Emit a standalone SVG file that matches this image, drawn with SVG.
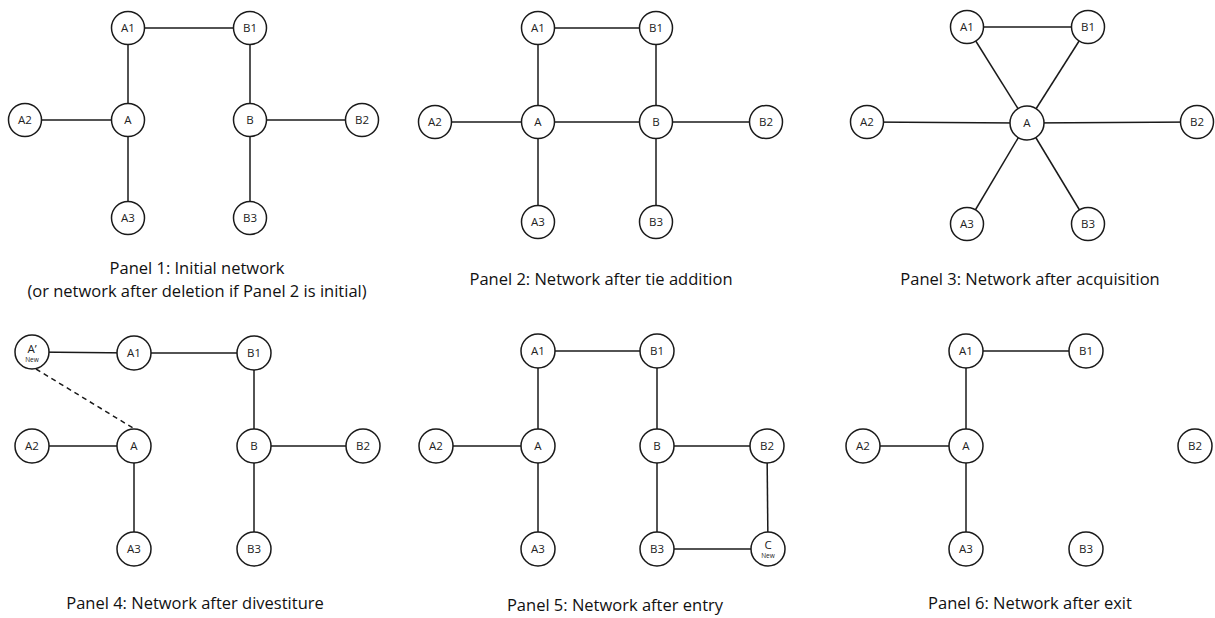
<svg xmlns="http://www.w3.org/2000/svg" width="1215" height="618" viewBox="0 0 1215 618">
<style>
.n circle{fill:#fff;stroke:#1a1a1a;stroke-width:1.5}
.n text{font-family:"Open Sans","Liberation Sans",sans-serif;font-size:11.5px;fill:#222;text-anchor:middle}
.n text.s{font-size:6.5px}
.e line{stroke:#1a1a1a;stroke-width:1.5}
.e line.d{stroke-dasharray:5,4}
.cap{font-family:"Open Sans","Liberation Sans",sans-serif;font-size:16.5px;fill:#111;text-anchor:middle}
</style>
<rect width="1215" height="618" fill="#fff"/>
<g id="connectors" class="e">
<!-- Panel 1 -->
<line x1="128" y1="28" x2="250" y2="28"/>
<line x1="128" y1="28" x2="128" y2="120"/>
<line x1="25" y1="120" x2="128" y2="120"/>
<line x1="128" y1="120" x2="128" y2="218"/>
<line x1="250" y1="28" x2="250" y2="120"/>
<line x1="250" y1="120" x2="362" y2="120"/>
<line x1="250" y1="120" x2="250" y2="218"/>
<!-- Panel 2 -->
<line x1="538" y1="28" x2="656" y2="28"/>
<line x1="538" y1="28" x2="538" y2="122"/>
<line x1="435" y1="122" x2="538" y2="122"/>
<line x1="538" y1="122" x2="656" y2="122"/>
<line x1="538" y1="122" x2="538" y2="222"/>
<line x1="656" y1="28" x2="656" y2="122"/>
<line x1="656" y1="122" x2="766" y2="122"/>
<line x1="656" y1="122" x2="656" y2="222"/>
<!-- Panel 3 -->
<line x1="967" y1="27" x2="1088" y2="27"/>
<line x1="967" y1="27" x2="1027" y2="123"/>
<line x1="1088" y1="27" x2="1027" y2="123"/>
<line x1="867" y1="122" x2="1027" y2="123"/>
<line x1="1027" y1="123" x2="1197" y2="122"/>
<line x1="1027" y1="123" x2="967" y2="224"/>
<line x1="1027" y1="123" x2="1088" y2="224"/>
<!-- Panel 4 -->
<line x1="32" y1="352" x2="134" y2="353"/>
<line x1="134" y1="353" x2="254" y2="353"/>
<line x1="254" y1="353" x2="254" y2="446"/>
<line x1="32" y1="446" x2="134" y2="446"/>
<line x1="134" y1="446" x2="134" y2="549"/>
<line x1="254" y1="446" x2="363" y2="446"/>
<line x1="254" y1="446" x2="254" y2="549"/>
<line class="d" x1="36" y1="369" x2="133" y2="428"/>
<!-- Panel 5 -->
<line x1="538" y1="351" x2="657" y2="351"/>
<line x1="538" y1="351" x2="538" y2="446"/>
<line x1="436" y1="446" x2="538" y2="446"/>
<line x1="538" y1="446" x2="538" y2="549"/>
<line x1="657" y1="351" x2="657" y2="446"/>
<line x1="657" y1="446" x2="767" y2="446"/>
<line x1="657" y1="446" x2="657" y2="549"/>
<line x1="767" y1="446" x2="768" y2="549"/>
<line x1="657" y1="549" x2="768" y2="549"/>
<!-- Panel 6 -->
<line x1="966" y1="351" x2="1086" y2="351"/>
<line x1="966" y1="351" x2="966" y2="446"/>
<line x1="863" y1="446" x2="966" y2="446"/>
<line x1="966" y1="446" x2="966" y2="549"/>
</g>
<!-- Panel 1 nodes -->
<g id="p1-A1" class="n"><circle cx="128" cy="28" r="16.5"/><text x="128" y="32">A1</text></g>
<g id="p1-B1" class="n"><circle cx="250" cy="28" r="16.5"/><text x="250" y="32">B1</text></g>
<g id="p1-A2" class="n"><circle cx="25" cy="120" r="16.5"/><text x="25" y="124">A2</text></g>
<g id="p1-A" class="n"><circle cx="128" cy="120" r="16.5"/><text x="128" y="124">A</text></g>
<g id="p1-B" class="n"><circle cx="250" cy="120" r="16.5"/><text x="250" y="124">B</text></g>
<g id="p1-B2" class="n"><circle cx="362" cy="120" r="16.5"/><text x="362" y="124">B2</text></g>
<g id="p1-A3" class="n"><circle cx="128" cy="218" r="16.5"/><text x="128" y="222">A3</text></g>
<g id="p1-B3" class="n"><circle cx="250" cy="218" r="16.5"/><text x="250" y="222">B3</text></g>
<!-- Panel 2 nodes -->
<g id="p2-A1" class="n"><circle cx="538" cy="28" r="16.5"/><text x="538" y="32">A1</text></g>
<g id="p2-B1" class="n"><circle cx="656" cy="28" r="16.5"/><text x="656" y="32">B1</text></g>
<g id="p2-A2" class="n"><circle cx="435" cy="122" r="16.5"/><text x="435" y="126">A2</text></g>
<g id="p2-A" class="n"><circle cx="538" cy="122" r="16.5"/><text x="538" y="126">A</text></g>
<g id="p2-B" class="n"><circle cx="656" cy="122" r="16.5"/><text x="656" y="126">B</text></g>
<g id="p2-B2" class="n"><circle cx="766" cy="122" r="16.5"/><text x="766" y="126">B2</text></g>
<g id="p2-A3" class="n"><circle cx="538" cy="222" r="16.5"/><text x="538" y="226">A3</text></g>
<g id="p2-B3" class="n"><circle cx="656" cy="222" r="16.5"/><text x="656" y="226">B3</text></g>
<!-- Panel 3 nodes -->
<g id="p3-A1" class="n"><circle cx="967" cy="27" r="16.5"/><text x="967" y="31">A1</text></g>
<g id="p3-B1" class="n"><circle cx="1088" cy="27" r="16.5"/><text x="1088" y="31">B1</text></g>
<g id="p3-A2" class="n"><circle cx="867" cy="122" r="16.5"/><text x="867" y="126">A2</text></g>
<g id="p3-A" class="n"><circle cx="1027" cy="123" r="17"/><text x="1027" y="127">A</text></g>
<g id="p3-B2" class="n"><circle cx="1197" cy="122" r="16.5"/><text x="1197" y="126">B2</text></g>
<g id="p3-A3" class="n"><circle cx="967" cy="224" r="16.5"/><text x="967" y="228">A3</text></g>
<g id="p3-B3" class="n"><circle cx="1088" cy="224" r="16.5"/><text x="1088" y="228">B3</text></g>
<!-- Panel 4 nodes -->
<g id="p4-Aprime" class="n"><circle cx="32" cy="352" r="17"/><text x="32" y="353">A’</text><text class="s" x="32" y="362">New</text></g>
<g id="p4-A1" class="n"><circle cx="134" cy="353" r="17"/><text x="134" y="357">A1</text></g>
<g id="p4-B1" class="n"><circle cx="254" cy="353" r="17"/><text x="254" y="357">B1</text></g>
<g id="p4-A2" class="n"><circle cx="32" cy="446" r="17"/><text x="32" y="450">A2</text></g>
<g id="p4-A" class="n"><circle cx="134" cy="446" r="17"/><text x="134" y="450">A</text></g>
<g id="p4-B" class="n"><circle cx="254" cy="446" r="17"/><text x="254" y="450">B</text></g>
<g id="p4-B2" class="n"><circle cx="363" cy="446" r="17"/><text x="363" y="450">B2</text></g>
<g id="p4-A3" class="n"><circle cx="134" cy="549" r="17"/><text x="134" y="553">A3</text></g>
<g id="p4-B3" class="n"><circle cx="254" cy="549" r="17"/><text x="254" y="553">B3</text></g>
<!-- Panel 5 nodes -->
<g id="p5-A1" class="n"><circle cx="538" cy="351" r="17"/><text x="538" y="355">A1</text></g>
<g id="p5-B1" class="n"><circle cx="657" cy="351" r="17"/><text x="657" y="355">B1</text></g>
<g id="p5-A2" class="n"><circle cx="436" cy="446" r="17"/><text x="436" y="450">A2</text></g>
<g id="p5-A" class="n"><circle cx="538" cy="446" r="17"/><text x="538" y="450">A</text></g>
<g id="p5-B" class="n"><circle cx="657" cy="446" r="17"/><text x="657" y="450">B</text></g>
<g id="p5-B2" class="n"><circle cx="767" cy="446" r="17"/><text x="767" y="450">B2</text></g>
<g id="p5-A3" class="n"><circle cx="538" cy="549" r="17"/><text x="538" y="553">A3</text></g>
<g id="p5-B3" class="n"><circle cx="657" cy="549" r="17"/><text x="657" y="553">B3</text></g>
<g id="p5-C" class="n"><circle cx="768" cy="549" r="17"/><text x="768" y="549">C</text><text class="s" x="768" y="558">New</text></g>
<!-- Panel 6 nodes -->
<g id="p6-A1" class="n"><circle cx="966" cy="351" r="17"/><text x="966" y="355">A1</text></g>
<g id="p6-B1" class="n"><circle cx="1086" cy="351" r="17"/><text x="1086" y="355">B1</text></g>
<g id="p6-A2" class="n"><circle cx="863" cy="446" r="17"/><text x="863" y="450">A2</text></g>
<g id="p6-A" class="n"><circle cx="966" cy="446" r="17"/><text x="966" y="450">A</text></g>
<g id="p6-B2" class="n"><circle cx="1195" cy="446" r="17"/><text x="1195" y="450">B2</text></g>
<g id="p6-A3" class="n"><circle cx="966" cy="549" r="17"/><text x="966" y="553">A3</text></g>
<g id="p6-B3" class="n"><circle cx="1086" cy="549" r="17"/><text x="1086" y="553">B3</text></g>
<!-- Captions -->
<g id="captions">
<text class="cap" x="197" y="274">Panel 1: Initial network</text>
<text class="cap" x="197" y="297">(or network after deletion if Panel 2 is initial)</text>
<text class="cap" x="601" y="285">Panel 2: Network after tie addition</text>
<text class="cap" x="1030" y="285">Panel 3: Network after acquisition</text>
<text class="cap" x="195" y="609">Panel 4: Network after divestiture</text>
<text class="cap" x="615" y="611">Panel 5: Network after entry</text>
<text class="cap" x="1030" y="609">Panel 6: Network after exit</text>
</g>
</svg>
